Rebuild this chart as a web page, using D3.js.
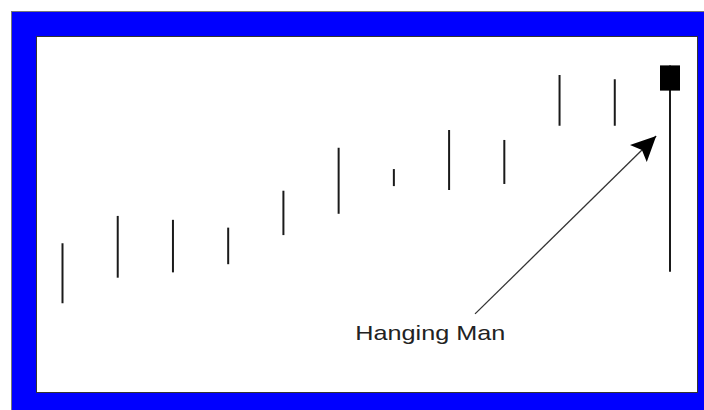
<!DOCTYPE html>
<html>
<head>
<meta charset="utf-8">
<script src="https://cdn.jsdelivr.net/npm/d3@7"></script>
<style>
  html, body { margin: 0; padding: 0; background: #fff; }
  svg { display: block; }
</style>
</head>
<body>
<svg id="canvas" width="704" height="410"></svg>
<script>
// candle data (price units)
var days   = [1, 2, 3, 4, 5, 6, 7, 8, 9, 10, 11, 12];
var highs  = [41.9, 49.6, 48.5, 46.3, 56.7, 68.8, 62.8, 73.8, 71.0, 89.3, 88.1, 92.0];
var lows   = [25.0, 32.2, 33.7, 36.0, 44.2, 50.2, 58.0, 56.9, 58.6, 75.0, 75.0, 33.9];
// only the last candle shows a body
var bodyDay = 12;
var bodyTop = 92.0, bodyBottom = 84.9;

var label = 'Hanging Man';
var labelDay = 7.66, labelValue = 14.6;
var arrowFrom = [8.47, 22.0];
var arrowTo   = [11.75, 72.1];

var width = 704, height = 410;
var svg = d3.select('svg#canvas');

// blue frame
svg.append('rect')
  .attr('x', 11.5).attr('y', 11.5)
  .attr('width', width).attr('height', height)
  .attr('fill', '#0000ff')
  .attr('stroke', '#777').attr('stroke-width', 1);

// white plot area
var plot = { left: 37, top: 37, right: 697, bottom: 392 };
svg.append('rect')
  .attr('x', plot.left - 0.5).attr('y', plot.top - 0.5)
  .attr('width', plot.right - plot.left + 1)
  .attr('height', plot.bottom - plot.top + 1)
  .attr('fill', '#fff')
  .attr('stroke', '#333').attr('stroke-width', 1);

var x = d3.scaleLinear().domain([1, 12]).range([62.5, 670]);
var y = d3.scaleLinear().domain([0, 100]).range([plot.bottom, plot.top]);

svg.append('defs').append('marker')
  .attr('id', 'arrowhead')
  .attr('markerUnits', 'userSpaceOnUse')
  .attr('markerWidth', 30)
  .attr('markerHeight', 26)
  .attr('refX', 25)
  .attr('refY', 12)
  .attr('orient', 'auto')
  .append('polygon')
  .attr('points', '0 0, 25 12, 0 24, 5 12')
  .attr('fill', '#000');

// candle wicks
svg.append('g').attr('class', 'wicks')
  .selectAll('line')
  .data(days)
  .enter().append('line')
  .attr('x1', function(d) { return x(d); })
  .attr('x2', function(d) { return x(d); })
  .attr('y1', function(d, i) { return y(highs[i]); })
  .attr('y2', function(d, i) { return y(lows[i]); })
  .attr('stroke', '#1a1a1a')
  .attr('stroke-width', 2);

// body of the hanging man
svg.append('rect')
  .attr('x', x(bodyDay) - 10)
  .attr('y', y(bodyTop))
  .attr('width', 20)
  .attr('height', y(bodyBottom) - y(bodyTop))
  .attr('fill', '#000');

// annotation arrow
svg.append('line')
  .attr('x1', x(arrowFrom[0])).attr('y1', y(arrowFrom[1]))
  .attr('x2', x(arrowTo[0])).attr('y2', y(arrowTo[1]))
  .attr('stroke', '#333')
  .attr('stroke-width', 1.3)
  .attr('marker-end', 'url(#arrowhead)');

svg.append('text')
  .attr('x', x(labelDay))
  .attr('y', y(labelValue))
  .attr('text-anchor', 'middle')
  .attr('textLength', 150)
  .attr('lengthAdjust', 'spacingAndGlyphs')
  .style('font-family', '"Liberation Sans", Arial, sans-serif')
  .style('font-size', '21px')
  .attr('fill', '#222')
  .text(label);
</script>
</body>
</html>
